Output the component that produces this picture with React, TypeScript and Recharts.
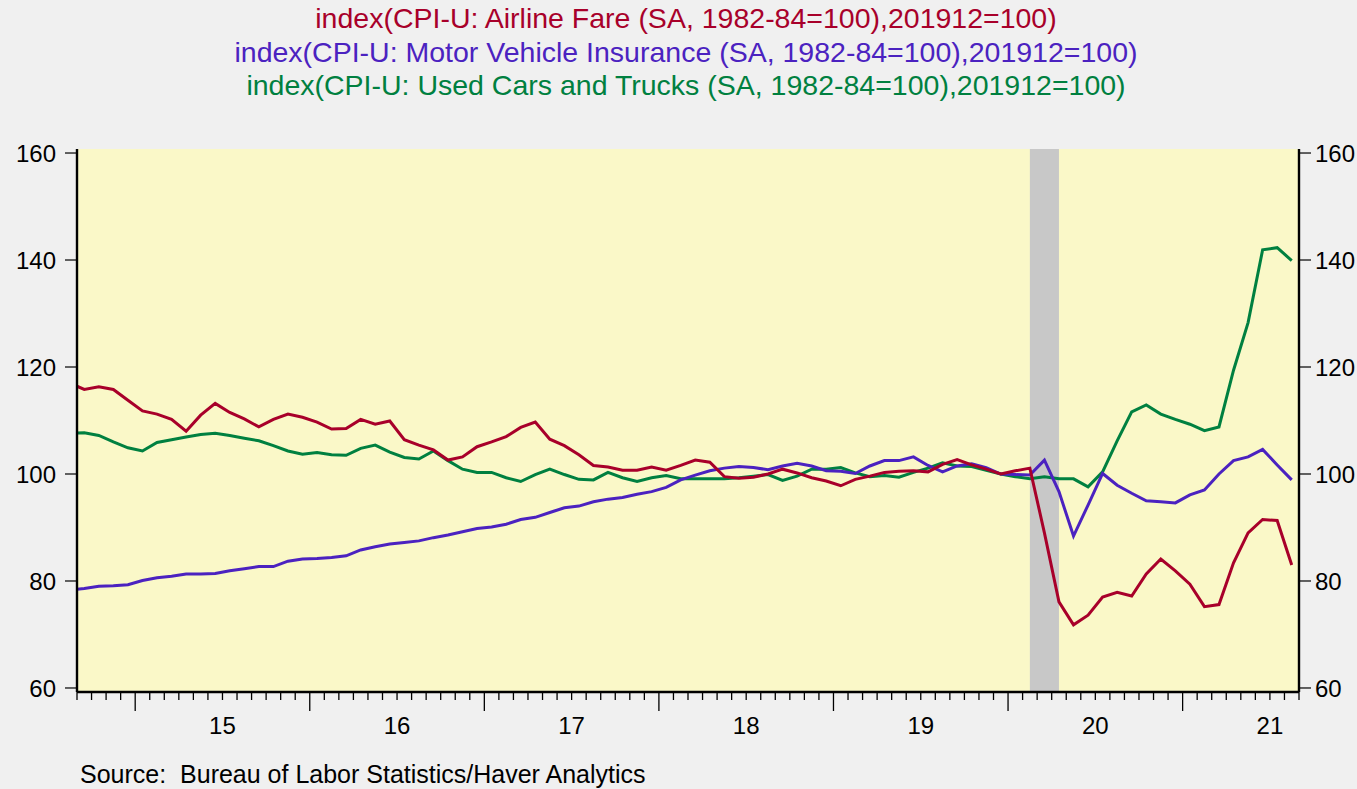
import React from 'react';
import { LineChart, Line, XAxis, YAxis, CartesianGrid, ReferenceArea } from 'recharts';

// monthly observations, Aug 2014 .. Aug 2021 (Aug 2014 sits left of the frame and gets clipped)
const months = [
  '2014-08', '2014-09', '2014-10', '2014-11', '2014-12',
  '2015-01', '2015-02', '2015-03', '2015-04', '2015-05', '2015-06', '2015-07', '2015-08', '2015-09', '2015-10', '2015-11', '2015-12',
  '2016-01', '2016-02', '2016-03', '2016-04', '2016-05', '2016-06', '2016-07', '2016-08', '2016-09', '2016-10', '2016-11', '2016-12',
  '2017-01', '2017-02', '2017-03', '2017-04', '2017-05', '2017-06', '2017-07', '2017-08', '2017-09', '2017-10', '2017-11', '2017-12',
  '2018-01', '2018-02', '2018-03', '2018-04', '2018-05', '2018-06', '2018-07', '2018-08', '2018-09', '2018-10', '2018-11', '2018-12',
  '2019-01', '2019-02', '2019-03', '2019-04', '2019-05', '2019-06', '2019-07', '2019-08', '2019-09', '2019-10', '2019-11', '2019-12',
  '2020-01', '2020-02', '2020-03', '2020-04', '2020-05', '2020-06', '2020-07', '2020-08', '2020-09', '2020-10', '2020-11', '2020-12',
  '2021-01', '2021-02', '2021-03', '2021-04', '2021-05', '2021-06', '2021-07', '2021-08',
];

const airlineFare = [
  117.0, 115.8, 116.3, 115.8, 113.8,
  111.8, 111.2, 110.2, 108.0, 111.0, 113.2, 111.5, 110.3, 108.8, 110.2, 111.2, 110.6,
  109.7, 108.4, 108.5, 110.2, 109.3, 109.9, 106.4, 105.4, 104.5, 102.6, 103.2, 105.1,
  106.0, 107.0, 108.7, 109.7, 106.5, 105.3, 103.6, 101.6, 101.3, 100.7, 100.7, 101.3,
  100.7, 101.6, 102.6, 102.2, 99.5, 99.2, 99.4, 100.0, 100.9, 100.2, 99.3, 98.7,
  97.8, 99.0, 99.6, 100.3, 100.5, 100.6, 100.4, 101.8, 102.7, 101.7, 100.9, 100.0,
  100.6, 101.1, 89.0, 76.1, 71.8, 73.6, 77.0, 77.9, 77.2, 81.3, 84.1, 81.9,
  79.4, 75.2, 75.6, 83.4, 89.0, 91.5, 91.3, 83.0,
];

const motorInsurance = [
  78.3, 78.6, 79.0, 79.1, 79.3,
  80.1, 80.6, 80.9, 81.3, 81.3, 81.4, 81.9, 82.3, 82.7, 82.7, 83.7, 84.1,
  84.2, 84.4, 84.7, 85.8, 86.4, 86.9, 87.2, 87.5, 88.1, 88.6, 89.2, 89.8,
  90.1, 90.6, 91.5, 91.9, 92.8, 93.7, 94.0, 94.8, 95.3, 95.6, 96.2, 96.7,
  97.5, 98.9, 99.8, 100.6, 101.1, 101.4, 101.2, 100.8, 101.5, 102.0, 101.5, 100.6,
  100.5, 100.1, 101.5, 102.5, 102.5, 103.2, 101.6, 100.4, 101.5, 101.9, 101.2, 100.0,
  99.9, 99.8, 102.6, 96.7, 88.4, 94.2, 100.1, 97.9, 96.4, 95.0, 94.8, 94.6,
  96.1, 97.0, 100.0, 102.5, 103.2, 104.6, 101.7, 98.9,
];

const usedCars = [
  107.6, 107.7, 107.2, 106.0, 104.9,
  104.3, 105.9, 106.4, 106.9, 107.4, 107.6, 107.2, 106.7, 106.2, 105.3, 104.3, 103.7,
  104.0, 103.6, 103.5, 104.8, 105.4, 104.1, 103.1, 102.8, 104.3, 102.5, 100.9, 100.3,
  100.3, 99.3, 98.6, 99.9, 100.9, 99.9, 99.0, 98.9, 100.3, 99.3, 98.6, 99.3,
  99.7, 99.1, 99.1, 99.1, 99.1, 99.3, 99.6, 99.9, 98.8, 99.6, 100.9, 100.9,
  101.2, 100.2, 99.5, 99.7, 99.4, 100.3, 101.1, 102.1, 101.5, 101.4, 100.7, 100.0,
  99.5, 99.1, 99.5, 99.1, 99.1, 97.6, 100.4, 106.2, 111.6, 112.9, 111.2, 110.2,
  109.3, 108.1, 108.8, 119.4, 128.3, 141.9, 142.3, 139.9,
];

const yearLabels = ['15', '16', '17', '18', '19', '20', '21'];
const yTicks = [60, 80, 100, 120, 140, 160];
const titles = [
  { text: 'index(CPI-U: Airline Fare (SA, 1982-84=100),201912=100)', color: '#A8002A' },
  { text: 'index(CPI-U: Motor Vehicle Insurance (SA, 1982-84=100),201912=100)', color: '#4B22C0' },
  { text: 'index(CPI-U: Used Cars and Trucks (SA, 1982-84=100),201912=100)', color: '#008040' },
];
const recession = ['2020-02', '2020-04'];

// x position in months since Jan 2014, plotted at mid-month
const toPos = (ym: string) => {
  const [y, m] = ym.split('-').map(Number);
  return (y - 2014) * 12 + (m - 1) + 0.5;
};

const data = months.map((ym, i) => ({
  t: toPos(ym),
  airline: airlineFare[i],
  insurance: motorInsurance[i],
  usedCars: usedCars[i],
}));

// month boundaries Sep 2014 .. Sep 2021
const xDomain = [8, 92];
const yDomain = [59.25, 160.75];
const monthTicks = Array.from({ length: 85 }, (_, i) => 8 + i);

const MonthTick = (props: any) => {
  const { x, y, payload } = props;
  const v = payload.value;
  const long = v % 12 === 0;
  const label = v % 12 === 6 ? yearLabels[(v - 18) / 12] : null;
  return (
    <g>
      <line x1={x} y1={y} x2={x} y2={y + (long ? 19 : 8)} stroke="#000" strokeWidth={1.3} />
      {label && (
        <text x={x} y={y + 42} textAnchor="middle" fontSize={24} fill="#000">{label}</text>
      )}
    </g>
  );
};

const ValueTick = (props: any) => {
  const { x, y, payload, anchor } = props;
  return (
    <text x={x} y={y} dy="0.36em" textAnchor={anchor} fontSize={24} fill="#000">{payload.value}</text>
  );
};

const frame = { stroke: '#000', strokeWidth: 2.4 };
const tickLine = { stroke: '#000', strokeWidth: 1.2 };

export default function App() {
  return (
    <div style={{ position: 'absolute', left: 0, top: 0, width: 1357, height: 789, background: '#F0F0F0', overflow: 'hidden', fontFamily: '"Liberation Sans", Arial, sans-serif' }}>
      <LineChart width={1357} height={789} data={data} margin={{ top: 149, right: 0, bottom: 0, left: 0 }}>
        <CartesianGrid fill="#FAF8C8" horizontal={false} vertical={false} />
        <XAxis dataKey="t" type="number" domain={xDomain} allowDataOverflow ticks={monthTicks} interval={0}
          height={97} tickSize={0} tickMargin={0} tickLine={false} axisLine={frame} tick={<MonthTick />} />
        <XAxis xAxisId="top" orientation="top" type="number" domain={xDomain} allowDataOverflow height={0}
          tick={false} tickLine={false} axisLine={frame} />
        <YAxis type="number" domain={yDomain} ticks={yTicks} interval={0} width={77} tickSize={12} tickMargin={9}
          tick={<ValueTick anchor="end" />} tickLine={tickLine} axisLine={frame} />
        <YAxis yAxisId="right" orientation="right" type="number" domain={yDomain} ticks={yTicks} interval={0} width={58}
          tickSize={12} tickMargin={4} tick={<ValueTick anchor="start" />} tickLine={tickLine} axisLine={frame} />
        <ReferenceArea x1={toPos(recession[0])} x2={toPos(recession[1])} fill="#C8C8C8" fillOpacity={1} stroke="none" />
        <Line type="linear" dataKey="usedCars" stroke="#008040" strokeWidth={3} dot={false} isAnimationActive={false} />
        <Line type="linear" dataKey="insurance" stroke="#4B22C0" strokeWidth={3} dot={false} isAnimationActive={false} />
        {/* same scale on both sides; bound to the right axis so that axis gets its ticks */}
        <Line type="linear" dataKey="airline" yAxisId="right" stroke="#A8002A" strokeWidth={3} dot={false} isAnimationActive={false} />
      </LineChart>
      <svg width={1357} height={789} style={{ position: 'absolute', left: 0, top: 0, pointerEvents: 'none' }}>
        {titles.map((t, i) => (
          <text key={t.text} x={686} y={28 + i * 33.5} textAnchor="middle" fontSize={28.5} fill={t.color}>{t.text}</text>
        ))}
        <text x={80} y={783} fontSize={25} fill="#000" style={{ whiteSpace: 'pre' }}>Source:  Bureau of Labor Statistics/Haver Analytics</text>
      </svg>
    </div>
  );
}
